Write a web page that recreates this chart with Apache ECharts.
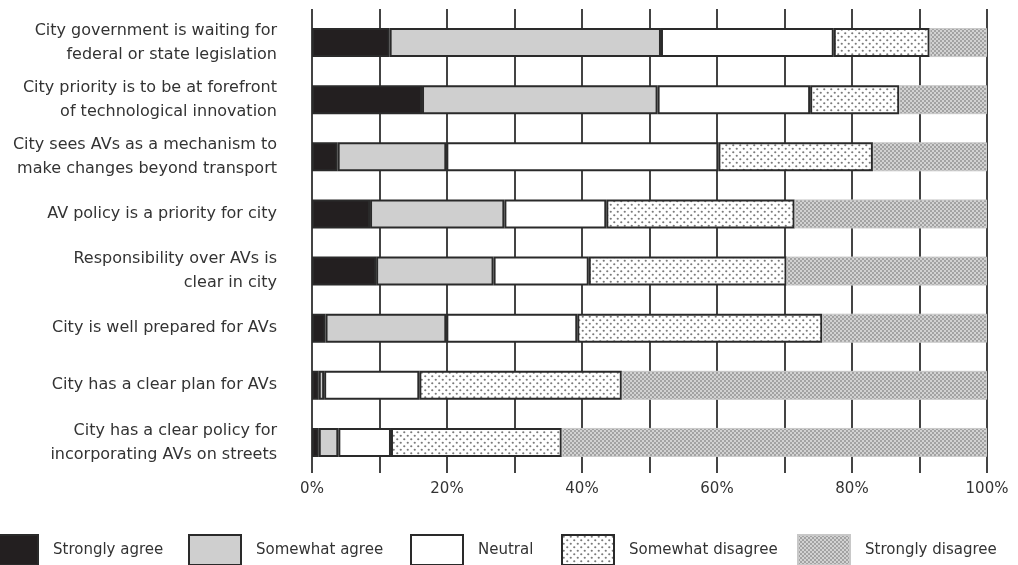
<!DOCTYPE html>
<html><head><meta charset="utf-8">
<script src="https://cdn.jsdelivr.net/npm/echarts@6/dist/echarts.min.js"></script>
<style>html,body{margin:0;padding:0;background:#fff}#c{width:1018px;height:565px}</style>
</head><body><div id="c"></div>
<script>
const categories = [
  "City government is waiting for\nfederal or state legislation",
  "City priority is to be at forefront\nof technological innovation",
  "City sees AVs as a mechanism to\nmake changes beyond transport",
  "AV policy is a priority for city",
  "Responsibility over AVs is\nclear in city",
  "City is well prepared for AVs",
  "City has a clear plan for AVs",
  "City has a clear policy for\nincorporating AVs on streets"
];
const stronglyAgree    = [11.5, 16.3, 3.8, 8.6, 9.5, 2.0, 1.0, 1.0];
const somewhatAgree    = [40.2, 34.9, 16.1, 19.9, 17.4, 17.9, 0.8, 2.9];
const neutral          = [25.6, 22.6, 40.3, 15.1, 14.1, 19.4, 14.1, 7.8];
const somewhatDisagree = [14.2, 13.2, 22.9, 27.9, 29.3, 36.3, 30.0, 25.3];
const stronglyDisagree = [8.5, 13.0, 16.9, 28.5, 29.7, 24.4, 54.1, 63.0];
const seriesNames = ["Strongly agree", "Somewhat agree", "Neutral", "Somewhat disagree", "Strongly disagree"];
const tickValues = [0, 20, 40, 60, 80, 100];

function makePattern(bg, dot, size, pts, r) {
  const c = document.createElement('canvas');
  c.width = c.height = size;
  const g = c.getContext('2d');
  g.fillStyle = bg; g.fillRect(0, 0, size, size);
  g.fillStyle = dot;
  pts.forEach(p => { g.beginPath(); g.arc(p[0], p[1], r, 0, Math.PI * 2); g.fill(); });
  return c;
}
const sdPattern = { image: makePattern('#ffffff', '#7a7a7a', 7, [[1.75, 1.75], [5.25, 5.25]], 1.1), repeat: 'repeat' };
const sdsPattern = { image: makePattern('#d2d2d2', '#8f8f8f', 4, [[1, 1], [3, 3]], 0.95), repeat: 'repeat' };

const FONT = 'DejaVu Sans';
const styles = [
  { color: '#231f20', borderColor: '#2a2a2a', borderWidth: 2 },
  { color: '#cfcfcf', borderColor: '#2a2a2a', borderWidth: 2 },
  { color: '#ffffff', borderColor: '#2a2a2a', borderWidth: 2 },
  { color: sdPattern, borderColor: '#2a2a2a', borderWidth: 2 },
  { color: sdsPattern, borderColor: '#c8c8c8', borderWidth: 1 }
];
const dataArr = [stronglyAgree, somewhatAgree, neutral, somewhatDisagree, stronglyDisagree];
const legendLefts = [-15, 188, 410, 561, 797];

const chart = echarts.init(document.getElementById('c'), null, { renderer: 'canvas' });
chart.setOption({
  animation: false,
  backgroundColor: '#fff',
  textStyle: { fontFamily: FONT },
  grid: { left: 312, right: 31, top: 14, bottom: 94 },
  legend: seriesNames.map((n, i) => ({
    data: [n], left: legendLefts[i], top: 534, padding: 0,
    itemWidth: 52, itemHeight: 30, icon: 'rect', selectedMode: false,
    textStyle: { fontFamily: FONT, fontSize: 15, color: '#333', padding: [0, 0, 0, 10] }
  })),
  xAxis: [{
    type: 'value', min: 0, max: 100, interval: 10, position: 'bottom',
    axisLine: { show: false },
    axisTick: { show: true, length: 2, lineStyle: { color: '#444', width: 2 } },
    splitLine: { show: true, lineStyle: { color: '#444', width: 2 } },
    axisLabel: {
      margin: 11, fontFamily: FONT, fontSize: 15, color: '#333',
      formatter: v => tickValues.includes(v) ? v + '%' : ''
    }
  }, {
    type: 'value', min: 0, max: 100, interval: 10, position: 'top',
    axisLine: { show: false },
    axisTick: { show: true, length: 5, lineStyle: { color: '#444', width: 2 } },
    splitLine: { show: false }, axisLabel: { show: false }
  }],
  yAxis: {
    type: 'category', data: categories, inverse: true,
    axisLine: { show: false }, axisTick: { show: false }, splitLine: { show: false },
    axisLabel: { margin: 35, fontFamily: FONT, fontSize: 16, color: '#333', lineHeight: 24, align: 'right' }
  },
  series: seriesNames.map((n, i) => ({
    name: n, type: 'bar', stack: 'total', barWidth: 29,
    data: dataArr[i], itemStyle: styles[i]
  }))
});
</script></body></html>
